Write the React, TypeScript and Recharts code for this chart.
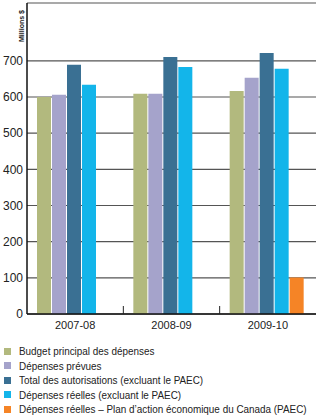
import React from 'react'
import { BarChart, Bar, XAxis, YAxis, CartesianGrid } from 'recharts'

const years = ['2007-08', '2008-09', '2009-10']
const budgetPrincipal = [600, 609, 617]
const depensesPrevues = [606, 609, 653]
const totalAutorisations = [689, 711, 722]
const depensesReelles = [634, 683, 678]
const depensesPaec = [null, null, 101]
const yTicks = [0, 100, 200, 300, 400, 500, 600, 700]

const series = [
  { key: 'budget', name: 'Budget principal des dépenses', color: '#b2b97e' },
  { key: 'prevues', name: 'Dépenses prévues', color: '#a5a3cb' },
  { key: 'autorisations', name: 'Total des autorisations (excluant le PAEC)', color: '#3a7093' },
  { key: 'reelles', name: 'Dépenses réelles (excluant le PAEC)', color: '#13b5ea' },
  { key: 'paec', name: 'Dépenses réelles – Plan d’action économique du Canada (PAEC)', color: '#f58426' },
]

const data = years.map((year, i) => ({
  year,
  budget: budgetPrincipal[i],
  prevues: depensesPrevues[i],
  autorisations: totalAutorisations[i],
  reelles: depensesReelles[i],
  paec: depensesPaec[i],
}))

const font = "'Liberation Sans', Arial, sans-serif"
const band = (316 - 27) / years.length

function YearTick(props: any) {
  const { x, y, payload, index } = props
  const axisY = y - 8
  return (
    <g>
      {index > 0 && (
        <line x1={x - band / 2} x2={x - band / 2} y1={axisY} y2={axisY - 8} stroke="#222" strokeWidth={1} />
      )}
      <text x={x} y={y + 7} textAnchor="middle" fontSize={11} fill="#222" fontFamily={font}>
        {payload.value}
      </text>
    </g>
  )
}

export default function App() {
  return (
    <div style={{ position: 'absolute', left: 0, top: 0, width: 321, height: 418, background: '#fff' }}>
      <BarChart
        width={321}
        height={340}
        data={data}
        margin={{ top: 3, right: 5, left: 0, bottom: 0 }}
        barCategoryGap={10}
        barGap={1}
      >
        <CartesianGrid vertical={false} stroke="#555" strokeWidth={1.2} />
        <XAxis
          dataKey="year"
          height={26}
          axisLine={{ stroke: '#111', strokeWidth: 1.5 }}
          tickLine={false}
          tick={<YearTick />}
          interval={0}
        />
        <YAxis
          width={27}
          domain={[0, 860]}
          ticks={yTicks}
          allowDataOverflow
          axisLine={{ stroke: '#111', strokeWidth: 1.5 }}
          tickLine={false}
          tickSize={0}
          tickMargin={4}
          tick={{ fill: '#222', fontSize: 12, fontFamily: font }}
        />
        {series.map((s) => (
          <Bar key={s.key} dataKey={s.key} name={s.name} fill={s.color} isAnimationActive={false} />
        ))}
      </BarChart>
      <svg style={{ position: 'absolute', left: 0, top: 0 }} width={27} height={50}>
        <text
          x={0}
          y={0}
          transform="translate(24 26) rotate(-90)"
          textAnchor="middle"
          fontSize={8}
          fontWeight="bold"
          fill="#222"
          fontFamily={font}
          textLength={32}
          lengthAdjust="spacingAndGlyphs"
        >
          Millions $
        </text>
      </svg>
      <div
        style={{
          position: 'absolute',
          left: 4,
          top: 344,
          fontFamily: font,
          fontSize: 11,
          color: '#222',
          whiteSpace: 'nowrap',
        }}
      >
        {series.map((s) => (
          <div key={s.key} style={{ display: 'flex', alignItems: 'center', height: 14.5 }}>
            <span style={{ display: 'inline-block', width: 7, height: 7, background: s.color, marginRight: 8 }} />
            <span style={{ display: 'inline-block', transform: 'scaleX(0.9)', transformOrigin: 'left center' }}>
              {s.name}
            </span>
          </div>
        ))}
      </div>
    </div>
  )
}
